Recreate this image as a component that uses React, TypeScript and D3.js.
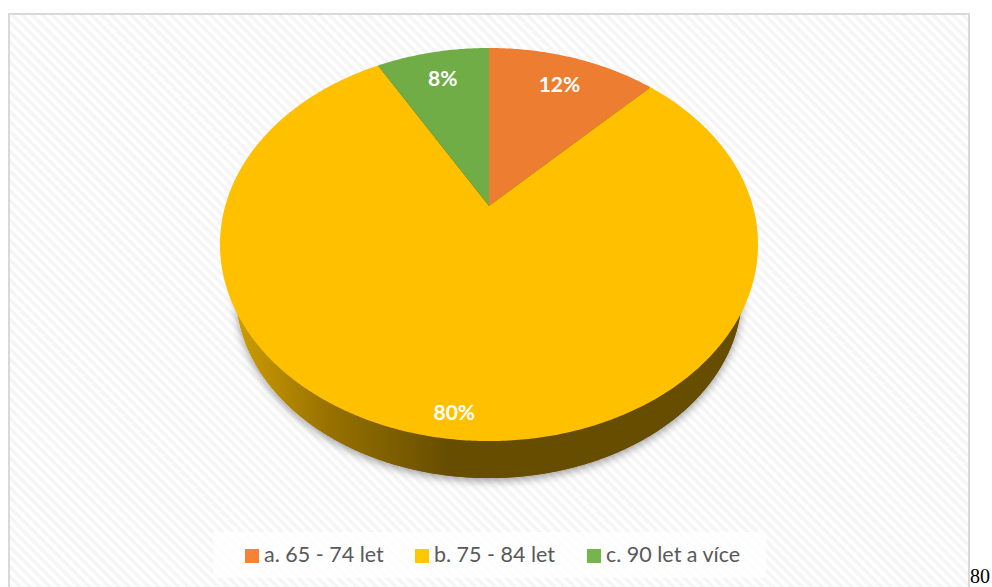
import React from "react";
import * as d3 from "d3";

const categories = ["a. 65 - 74 let", "b. 75 - 84 let", "c. 90 let a více"];
const values = [12.3, 79.5, 8.2];
const labels = ["12%", "80%", "8%"];
const colors = ["#ED7D31", "#FFC000", "#70AD47"];
const legendColors = ["#F58235", "#FFC800", "#76B54B"];
const labelRadius = [0.8, 0.905, 0.81];
const labelShift = [1, 2.5, 1];

const W = 992, H = 587;
const cx = 489, apexY = 206, a = 263.8, b = 189, k = 0.196;
const depth = 51.1, lowerScale = 0.94;

function project(r: number, ang: number, scale = 1, dy = 0): [number, number] {
  const u = r * Math.sin(ang), v = r * Math.cos(ang);
  const w = 1 + k * v;
  return [cx + (scale * a * u) / w, apexY + dy - (scale * b * v) / w];
}
function arcPoints(a0: number, a1: number, scale = 1, dy = 0): [number, number][] {
  const n = Math.max(2, Math.ceil(Math.abs(a1 - a0) / 0.01));
  return d3.range(n + 1).map((i) => project(1, a0 + ((a1 - a0) * i) / n, scale, dy));
}

const line = d3.line().curve(d3.curveLinear);
const pie = d3.pie<number>().sort(null).value((d) => d);
const slices = pie(values);

const legendWidths = [170, 172, 0];

export default function App() {
  return (
    <svg width={W} height={H} viewBox={`0 0 ${W} ${H}`} style={{ position: "absolute", left: 0, top: 0, display: "block" }}>
      <defs>
        <pattern id="stripes" width="7" height="7" patternUnits="userSpaceOnUse" patternTransform="rotate(45)">
          <rect width="7" height="7" fill="#ffffff" />
          <rect width="7" height="3.5" fill="#f5f5f5" />
        </pattern>
        <linearGradient id="wall" gradientUnits="userSpaceOnUse" x1="235" x2="450" y1="0" y2="0">
          <stop offset="0" stopColor="#cf9d00" />
          <stop offset="0.45" stopColor="#967000" />
          <stop offset="1" stopColor="#664d00" />
        </linearGradient>
        <filter id="shadow" x="-10%" y="-10%" width="120%" height="125%">
          <feDropShadow dx="0" dy="3" stdDeviation="4.5" floodColor="#000" floodOpacity="0.38" />
        </filter>
      </defs>
      <rect width={W} height={H} fill="#fff" />
      <rect x="9" y="14" width="960" height="590" fill="url(#stripes)" stroke="#d9d9d9" strokeWidth="2" />

      <path d={line(arcPoints(0, 2 * Math.PI, lowerScale, depth))! + "Z"} fill="url(#wall)" filter="url(#shadow)" />
      {slices.map((s, i) => {
        const top = arcPoints(s.startAngle, s.endAngle, 0.995);
        const low = arcPoints(s.endAngle, s.startAngle, lowerScale, depth);
        return <path key={i} d={line([...top, ...low])! + "Z"} fill="url(#wall)" />;
      })}

      {slices.map((s, i) => {
        const pts: [number, number][] = [project(0, 0), ...arcPoints(s.startAngle, s.endAngle)];
        return <path key={i} d={line(pts)! + "Z"} fill={colors[i]} />;
      })}

      {slices.map((s, i) => {
        const [x, y] = project(labelRadius[i], (s.startAngle + s.endAngle) / 2);
        return (
          <text key={i} x={x + labelShift[i]} y={y} textAnchor="middle" dominantBaseline="central" fill="#fff" fontFamily="Lato" fontWeight="700" fontSize="21">
            {labels[i]}
          </text>
        );
      })}

      <rect x="213" y="532" width="553" height="46" fill="#fff" fillOpacity="0.75" />
      {categories.map((c, i) => {
        const x = 245 + d3.sum(legendWidths.slice(0, i));
        return (
          <g key={c}>
            <rect x={x} y={549} width={14} height={14} fill={legendColors[i]} />
            <text x={x + 19} y={562} fontFamily="Lato" fontSize="21.5" fill="#595959">{c}</text>
          </g>
        );
      })}

      <text x="970" y="583" fontFamily="Liberation Serif" fontSize="20" fill="#000">80</text>
    </svg>
  );
}
